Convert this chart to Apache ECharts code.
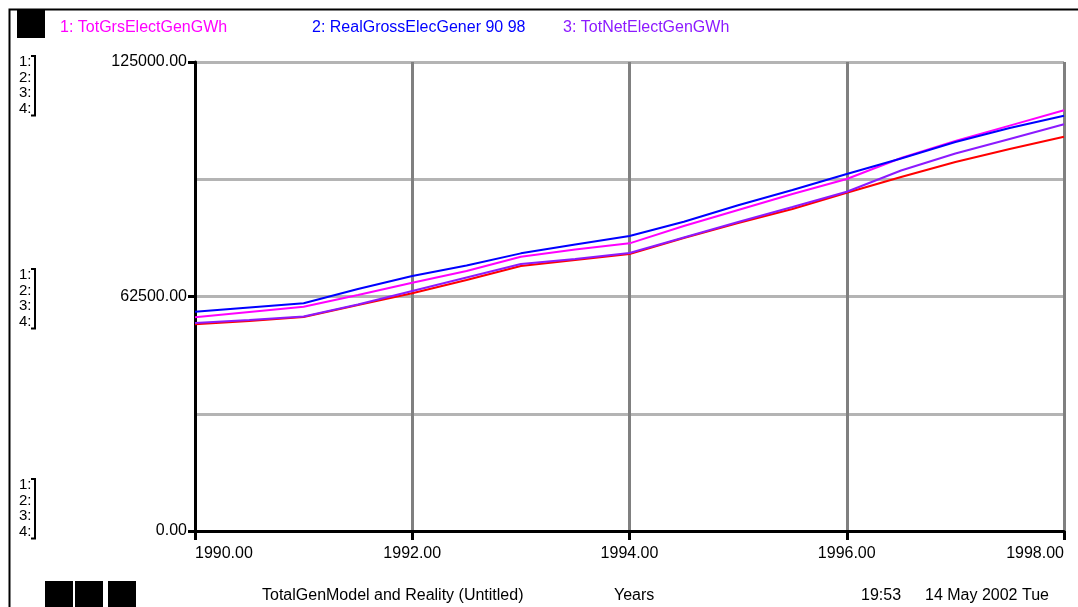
<!DOCTYPE html>
<html>
<head>
<meta charset="utf-8">
<script src="https://cdn.jsdelivr.net/npm/echarts@6/dist/echarts.min.js"></script>
<style>
html,body{margin:0;padding:0;background:#fff;}
#chart{width:1078px;height:607px;}
</style>
</head>
<body>
<div id="chart"></div>
<script>
// ---- data ----
const years = [1990, 1990.5, 1991, 1991.5, 1992, 1992.5, 1993, 1993.5, 1994, 1994.5, 1995, 1995.5, 1996, 1996.5, 1997, 1997.5, 1998];
const totGrsElectGenGWh = [56950, 58360, 59780, 62890, 66170, 69290, 73100, 75020, 76670, 81280, 85550, 89810, 93810, 99400, 103960, 108040, 112120];
const realGrossElecGener9098 = [58440, 59560, 60680, 64490, 67960, 70760, 74000, 76350, 78620, 82430, 86800, 90880, 95140, 99270, 103660, 107420, 110680];
const totNetElectGenGWh = [55430, 56230, 57160, 60360, 63960, 67560, 71160, 72490, 74090, 78220, 82350, 86350, 90420, 96070, 100600, 104500, 108390];
const series4 = [55090, 55970, 57030, 60230, 63350, 66890, 70620, 72220, 73820, 78090, 82080, 85800, 90160, 94340, 98370, 101800, 105080];
const legendLabels = ['1: TotGrsElectGenGWh', '2: RealGrossElecGener 90 98', '3: TotNetElectGenGWh'];
const yTicks = [0, 62500, 125000];
const xTicks = [1990, 1992, 1994, 1996, 1998];
const footerTitle = 'TotalGenModel and Reality (Untitled)';
const footerUnit = 'Years';
const footerTime = '19:53';
const footerDate = '14 May 2002 Tue';

const pairs = (xs, ys) => xs.map((x, i) => [x, ys[i]]);
const FONT = '"Liberation Sans", Arial, sans-serif';
const colors = ['#ff00ff', '#0000ff', '#8c1aff', '#ff0000'];

const chart = echarts.init(document.getElementById('chart'), null, {renderer: 'canvas'});

function bracketGroup(yTop) {
  const lh = 15.6;
  const h = lh * 4;
  return [
    {type: 'text', left: 19, top: yTop, z: 10,
     style: {text: '1:\n2:\n3:\n4:', font: '15px ' + FONT, fill: '#000', lineHeight: lh}},
    {type: 'polyline', z: 10,
     shape: {points: [[31, yTop + 2], [35, yTop + 2], [35, yTop + h - 1], [31, yTop + h - 1]]},
     style: {stroke: '#000', lineWidth: 2, fill: null}}
  ];
}

const option = {
  backgroundColor: '#fff',
  animation: false,
  grid: {left: 195, right: 14, top: 62, bottom: 76, containLabel: false},
  xAxis: {
    type: 'value', min: xTicks[0], max: xTicks[xTicks.length - 1], interval: 2,
    axisLine: {show: true, onZero: false, lineStyle: {color: '#000', width: 3}},
    axisTick: {show: true, length: 9, lineStyle: {color: '#000', width: 3}},
    axisLabel: {color: '#000', fontSize: 16, fontFamily: FONT, margin: 15,
      alignMinLabel: 'left', alignMaxLabel: 'right',
      formatter: v => v.toFixed(2)},
    splitLine: {show: true, lineStyle: {color: '#808080', width: 3}}
  },
  yAxis: [
    {
      type: 'value', min: yTicks[0], max: yTicks[yTicks.length - 1], interval: yTicks[1] - yTicks[0],
      axisLine: {show: true, onZero: false, lineStyle: {color: '#000', width: 3}},
      axisTick: {show: true, length: 7, lineStyle: {color: '#000', width: 3}},
      axisLabel: {color: '#000', fontSize: 16, fontFamily: FONT, margin: 8,
        formatter: v => v.toFixed(2)},
      splitLine: {show: false}
    },
    {
      type: 'value', min: yTicks[0], max: yTicks[yTicks.length - 1], interval: (yTicks[1] - yTicks[0]) / 2,
      position: 'left',
      axisLine: {show: false}, axisTick: {show: false}, axisLabel: {show: false},
      splitLine: {show: true, lineStyle: {color: '#b4b4b4', width: 3}}
    }
  ],
  series: [
    {name: legendLabels[0], type: 'line', data: pairs(years, totGrsElectGenGWh), yAxisIndex: 0,
     showSymbol: false, lineStyle: {color: colors[0], width: 2}, z: 4},
    {name: legendLabels[1], type: 'line', data: pairs(years, realGrossElecGener9098), yAxisIndex: 0,
     showSymbol: false, lineStyle: {color: colors[1], width: 2}, z: 5},
    {name: legendLabels[2], type: 'line', data: pairs(years, totNetElectGenGWh), yAxisIndex: 0,
     showSymbol: false, lineStyle: {color: colors[2], width: 2}, z: 3},
    {name: '4', type: 'line', data: pairs(years, series4), yAxisIndex: 0,
     showSymbol: false, lineStyle: {color: colors[3], width: 2}, z: 2}
  ],
  graphic: [
    // outer frame
    {type: 'rect', z: 10, shape: {x: 9.5, y: 9.5, width: 1200, height: 1000},
     style: {stroke: '#000', lineWidth: 2, fill: null}},
    // top-left block
    {type: 'rect', z: 10, shape: {x: 17, y: 10, width: 28, height: 28}, style: {fill: '#000'}},
    // bottom-left blocks
    {type: 'rect', z: 10, shape: {x: 45, y: 581, width: 28, height: 30}, style: {fill: '#000'}},
    {type: 'rect', z: 10, shape: {x: 75, y: 581, width: 28, height: 30}, style: {fill: '#000'}},
    {type: 'rect', z: 10, shape: {x: 108, y: 581, width: 28, height: 30}, style: {fill: '#000'}},
    // legend labels
    {type: 'text', left: 60, top: 20, z: 10, style: {text: legendLabels[0], font: '16px ' + FONT, fill: colors[0]}},
    {type: 'text', left: 312, top: 20, z: 10, style: {text: legendLabels[1], font: '16px ' + FONT, fill: colors[1]}},
    {type: 'text', left: 563, top: 20, z: 10, style: {text: legendLabels[2], font: '16px ' + FONT, fill: colors[2]}},
    // scale brackets
    ...bracketGroup(54),
    ...bracketGroup(267),
    ...bracketGroup(477),
    // footer
    {type: 'text', left: 262, top: 588, z: 10, style: {text: footerTitle, font: '16px ' + FONT, fill: '#000'}},
    {type: 'text', left: 614, top: 588, z: 10, style: {text: footerUnit, font: '16px ' + FONT, fill: '#000'}},
    {type: 'text', left: 861, top: 588, z: 10, style: {text: footerTime, font: '16px ' + FONT, fill: '#000'}},
    {type: 'text', left: 925, top: 588, z: 10, style: {text: footerDate, font: '16px ' + FONT, fill: '#000'}}
  ]
};
chart.setOption(option);
</script>
</body>
</html>
